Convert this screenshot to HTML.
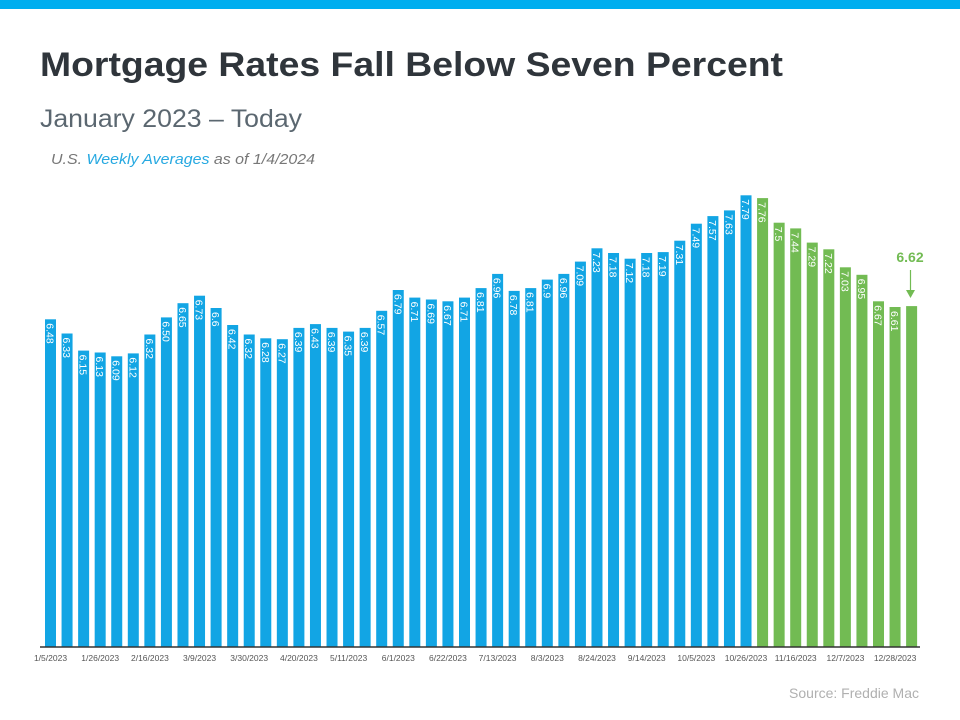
<!DOCTYPE html>
<html><head><meta charset="utf-8"><style>
body{margin:0;background:#fff;width:960px;height:720px;overflow:hidden}
svg{display:block;font-family:"Liberation Sans",sans-serif}
.b rect{fill:#12a5e4}.g rect{fill:#72bb53}
.b text,.g text{fill:#fff;font-size:10.5px}
.d{fill:#555;font-size:8.5px;text-anchor:middle}
</style></head><body>
<svg width="960" height="720" viewBox="0 0 960 720">
<rect x="0" y="0" width="960" height="9" fill="#00aeef"/>
<text x="40" y="76" font-size="34" font-weight="bold" fill="#2f353b" textLength="743" lengthAdjust="spacingAndGlyphs">Mortgage Rates Fall Below Seven Percent</text>
<text x="40" y="127" font-size="25" fill="#5b6770" textLength="262" lengthAdjust="spacingAndGlyphs">January 2023 – Today</text>
<text x="51" y="164" font-size="14.5" font-style="italic" fill="#777" textLength="264" lengthAdjust="spacingAndGlyphs">U.S. <tspan fill="#27a9e1">Weekly Averages</tspan> as of 1/4/2024</text>
<g class="b">
<g transform="translate(45,319.3)"><rect width="11" height="327.7"/><text transform="rotate(90)" x="4" y="-1.5">6.48</text></g>
<g transform="translate(61.56,333.5)"><rect width="11" height="313.5"/><text transform="rotate(90)" x="4" y="-1.5">6.33</text></g>
<g transform="translate(78.12,350.6)"><rect width="11" height="296.4"/><text transform="rotate(90)" x="4" y="-1.5">6.15</text></g>
<g transform="translate(94.68,352.5)"><rect width="11" height="294.5"/><text transform="rotate(90)" x="4" y="-1.5">6.13</text></g>
<g transform="translate(111.24,356.3)"><rect width="11" height="290.7"/><text transform="rotate(90)" x="4" y="-1.5">6.09</text></g>
<g transform="translate(127.8,353.4)"><rect width="11" height="293.6"/><text transform="rotate(90)" x="4" y="-1.5">6.12</text></g>
<g transform="translate(144.36,334.5)"><rect width="11" height="312.5"/><text transform="rotate(90)" x="4" y="-1.5">6.32</text></g>
<g transform="translate(160.92,317.4)"><rect width="11" height="329.6"/><text transform="rotate(90)" x="4" y="-1.5">6.50</text></g>
<g transform="translate(177.48,303.2)"><rect width="11" height="343.8"/><text transform="rotate(90)" x="4" y="-1.5">6.65</text></g>
<g transform="translate(194.04,295.7)"><rect width="11" height="351.3"/><text transform="rotate(90)" x="4" y="-1.5">6.73</text></g>
<g transform="translate(210.6,308)"><rect width="11" height="339"/><text transform="rotate(90)" x="4" y="-1.5">6.6</text></g>
<g transform="translate(227.16,325)"><rect width="11" height="322"/><text transform="rotate(90)" x="4" y="-1.5">6.42</text></g>
<g transform="translate(243.72,334.5)"><rect width="11" height="312.5"/><text transform="rotate(90)" x="4" y="-1.5">6.32</text></g>
<g transform="translate(260.28,338.3)"><rect width="11" height="308.7"/><text transform="rotate(90)" x="4" y="-1.5">6.28</text></g>
<g transform="translate(276.84,339.2)"><rect width="11" height="307.8"/><text transform="rotate(90)" x="4" y="-1.5">6.27</text></g>
<g transform="translate(293.4,327.9)"><rect width="11" height="319.1"/><text transform="rotate(90)" x="4" y="-1.5">6.39</text></g>
<g transform="translate(309.96,324.1)"><rect width="11" height="322.9"/><text transform="rotate(90)" x="4" y="-1.5">6.43</text></g>
<g transform="translate(326.52,327.9)"><rect width="11" height="319.1"/><text transform="rotate(90)" x="4" y="-1.5">6.39</text></g>
<g transform="translate(343.08,331.6)"><rect width="11" height="315.4"/><text transform="rotate(90)" x="4" y="-1.5">6.35</text></g>
<g transform="translate(359.64,327.9)"><rect width="11" height="319.1"/><text transform="rotate(90)" x="4" y="-1.5">6.39</text></g>
<g transform="translate(376.2,310.8)"><rect width="11" height="336.2"/><text transform="rotate(90)" x="4" y="-1.5">6.57</text></g>
<g transform="translate(392.76,290)"><rect width="11" height="357"/><text transform="rotate(90)" x="4" y="-1.5">6.79</text></g>
<g transform="translate(409.32,297.6)"><rect width="11" height="349.4"/><text transform="rotate(90)" x="4" y="-1.5">6.71</text></g>
<g transform="translate(425.88,299.5)"><rect width="11" height="347.5"/><text transform="rotate(90)" x="4" y="-1.5">6.69</text></g>
<g transform="translate(442.44,301.3)"><rect width="11" height="345.7"/><text transform="rotate(90)" x="4" y="-1.5">6.67</text></g>
<g transform="translate(459,297.6)"><rect width="11" height="349.4"/><text transform="rotate(90)" x="4" y="-1.5">6.71</text></g>
<g transform="translate(475.56,288.1)"><rect width="11" height="358.9"/><text transform="rotate(90)" x="4" y="-1.5">6.81</text></g>
<g transform="translate(492.12,273.9)"><rect width="11" height="373.1"/><text transform="rotate(90)" x="4" y="-1.5">6.96</text></g>
<g transform="translate(508.68,290.9)"><rect width="11" height="356.1"/><text transform="rotate(90)" x="4" y="-1.5">6.78</text></g>
<g transform="translate(525.24,288.1)"><rect width="11" height="358.9"/><text transform="rotate(90)" x="4" y="-1.5">6.81</text></g>
<g transform="translate(541.8,279.6)"><rect width="11" height="367.4"/><text transform="rotate(90)" x="4" y="-1.5">6.9</text></g>
<g transform="translate(558.36,273.9)"><rect width="11" height="373.1"/><text transform="rotate(90)" x="4" y="-1.5">6.96</text></g>
<g transform="translate(574.92,261.6)"><rect width="11" height="385.4"/><text transform="rotate(90)" x="4" y="-1.5">7.09</text></g>
<g transform="translate(591.48,248.3)"><rect width="11" height="398.7"/><text transform="rotate(90)" x="4" y="-1.5">7.23</text></g>
<g transform="translate(608.04,253)"><rect width="11" height="394"/><text transform="rotate(90)" x="4" y="-1.5">7.18</text></g>
<g transform="translate(624.6,258.7)"><rect width="11" height="388.3"/><text transform="rotate(90)" x="4" y="-1.5">7.12</text></g>
<g transform="translate(641.16,253)"><rect width="11" height="394"/><text transform="rotate(90)" x="4" y="-1.5">7.18</text></g>
<g transform="translate(657.72,252.1)"><rect width="11" height="394.9"/><text transform="rotate(90)" x="4" y="-1.5">7.19</text></g>
<g transform="translate(674.28,240.7)"><rect width="11" height="406.3"/><text transform="rotate(90)" x="4" y="-1.5">7.31</text></g>
<g transform="translate(690.84,223.7)"><rect width="11" height="423.3"/><text transform="rotate(90)" x="4" y="-1.5">7.49</text></g>
<g transform="translate(707.4,216.1)"><rect width="11" height="430.9"/><text transform="rotate(90)" x="4" y="-1.5">7.57</text></g>
<g transform="translate(723.96,210.4)"><rect width="11" height="436.6"/><text transform="rotate(90)" x="4" y="-1.5">7.63</text></g>
<g transform="translate(740.52,195.3)"><rect width="11" height="451.7"/><text transform="rotate(90)" x="4" y="-1.5">7.79</text></g>
</g>
<g class="g">
<g transform="translate(757.08,198.1)"><rect width="11" height="448.9"/><text transform="rotate(90)" x="4" y="-1.5">7.76</text></g>
<g transform="translate(773.64,222.7)"><rect width="11" height="424.3"/><text transform="rotate(90)" x="4" y="-1.5">7.5</text></g>
<g transform="translate(790.2,228.4)"><rect width="11" height="418.6"/><text transform="rotate(90)" x="4" y="-1.5">7.44</text></g>
<g transform="translate(806.76,242.6)"><rect width="11" height="404.4"/><text transform="rotate(90)" x="4" y="-1.5">7.29</text></g>
<g transform="translate(823.32,249.3)"><rect width="11" height="397.7"/><text transform="rotate(90)" x="4" y="-1.5">7.22</text></g>
<g transform="translate(839.88,267.3)"><rect width="11" height="379.7"/><text transform="rotate(90)" x="4" y="-1.5">7.03</text></g>
<g transform="translate(856.44,274.8)"><rect width="11" height="372.2"/><text transform="rotate(90)" x="4" y="-1.5">6.95</text></g>
<g transform="translate(873,301.3)"><rect width="11" height="345.7"/><text transform="rotate(90)" x="4" y="-1.5">6.67</text></g>
<g transform="translate(889.56,307)"><rect width="11" height="340"/><text transform="rotate(90)" x="4" y="-1.5">6.61</text></g>
<g transform="translate(906.12,306.1)"><rect width="11" height="340.9"/></g>
</g>
<text x="910" y="262" font-size="14" font-weight="bold" fill="#72bb53" text-anchor="middle">6.62</text>
<line x1="910.5" y1="270" x2="910.5" y2="292" stroke="#72bb53" stroke-width="1.2"/>
<polygon points="906,290 915,290 910.5,298" fill="#72bb53"/>
<line x1="40" y1="647" x2="920" y2="647" stroke="#333" stroke-width="1.5"/>
<text class="d" x="50.5" y="661">1/5/2023</text>
<text class="d" x="100.2" y="661">1/26/2023</text>
<text class="d" x="149.9" y="661">2/16/2023</text>
<text class="d" x="199.5" y="661">3/9/2023</text>
<text class="d" x="249.2" y="661">3/30/2023</text>
<text class="d" x="298.9" y="661">4/20/2023</text>
<text class="d" x="348.6" y="661">5/11/2023</text>
<text class="d" x="398.3" y="661">6/1/2023</text>
<text class="d" x="447.9" y="661">6/22/2023</text>
<text class="d" x="497.6" y="661">7/13/2023</text>
<text class="d" x="547.3" y="661">8/3/2023</text>
<text class="d" x="597" y="661">8/24/2023</text>
<text class="d" x="646.7" y="661">9/14/2023</text>
<text class="d" x="696.3" y="661">10/5/2023</text>
<text class="d" x="746" y="661">10/26/2023</text>
<text class="d" x="795.7" y="661">11/16/2023</text>
<text class="d" x="845.4" y="661">12/7/2023</text>
<text class="d" x="895.1" y="661">12/28/2023</text>
<text x="919" y="698" font-size="14" fill="#b0b0b0" text-anchor="end">Source: Freddie Mac</text>
</svg>
</body></html>
